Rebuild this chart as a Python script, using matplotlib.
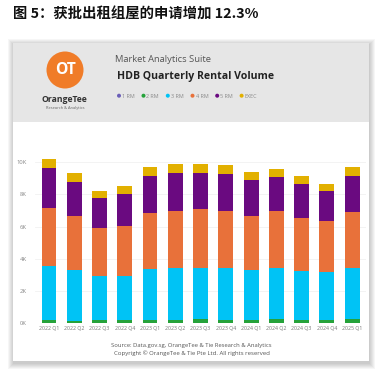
import matplotlib
matplotlib.use('Agg')
import matplotlib.pyplot as plt
import numpy as np
from matplotlib.patches import Rectangle, Circle

quarters = ['2022 Q1', '2022 Q2', '2022 Q3', '2022 Q4', '2023 Q1', '2023 Q2', '2023 Q3',
            '2023 Q4', '2024 Q1', '2024 Q2', '2024 Q3', '2024 Q4', '2025 Q1']
rm1 = [10, 10, 10, 10, 10, 10, 10, 10, 10, 10, 10, 10, 10]
rm2 = [160, 110, 160, 160, 160, 200, 220, 180, 180, 220, 180, 180, 220]
rm3 = [3380, 3180, 2750, 2750, 3210, 3230, 3190, 3250, 3130, 3190, 3050, 2960, 3190]
rm4 = [3590, 3340, 2970, 3100, 3450, 3550, 3650, 3530, 3360, 3530, 3310, 3180, 3490]
rm5 = [2510, 2150, 1890, 2010, 2300, 2330, 2280, 2300, 2240, 2130, 2120, 1880, 2260]
execu = [560, 540, 430, 480, 560, 570, 540, 560, 500, 500, 480, 440, 520]
series_names = ['1 RM', '2 RM', '3 RM', '4 RM', '5 RM', 'EXEC']
series_colors = ['#6B5FB8', '#25A23A', '#00C3F5', '#E8713A', '#6A0A80', '#E2B000']
yticks = [0, 2000, 4000, 6000, 8000, 10000]
ytick_labels = ['0K', '2K', '4K', '6K', '8K', '10K']

title = '图 5：获批出租组屋的申请增加 12.3%'
suite = 'Market Analytics Suite'
chart_title = 'HDB Quarterly Rental Volume'
source1 = 'Source: Data.gov.sg, OrangeTee & Tie Research & Analytics'
source2 = 'Copyright © OrangeTee & Tie Pte Ltd. All rights reserved'

W = H = 380
fig = plt.figure(figsize=(3.8, 3.8), dpi=100)
fig.patch.set_facecolor('white')
bg = fig.add_axes([0, 0, 1, 1])
bg.set_xlim(0, W)
bg.set_ylim(H, 0)
bg.axis('off')
renderer = fig.canvas.get_renderer()

LAT = ['Open Sans', 'DejaVu Sans']


def fit(x0, x1, y, s, ref=10, **kw):
    t = bg.text(x0, y, s, fontsize=ref, ha='left', va='center', **kw)
    w = t.get_window_extent(renderer=renderer).width
    t.set_fontsize(ref * (x1 - x0) / w)
    return t

# card shadow
for d in range(1, 7):
    bg.add_patch(Rectangle((13 - d + 1, 43 - d + 2), 356 + 2 * d - 1, 318 + 2 * d,
                           fc='black', ec='none', alpha=0.035, zorder=1))
bg.add_patch(Rectangle((13, 43), 356, 318, fc='white', ec='none', zorder=2))
bg.add_patch(Rectangle((13, 43), 356, 79, fc='#E6E6E6', ec='none', zorder=3))

# title
fit(13, 258, 15, title, family=['Noto Sans CJK SC', 'DejaVu Sans'], weight='bold',
    color='#111111', zorder=5)

# logo
bg.add_patch(Circle((65, 70), 18.5, fc='#F07C28', ec='none', zorder=4))
fit(55, 76, 70, 'OT', family=LAT, weight='bold', color='white', zorder=5)
fit(42, 88, 99, 'OrangeTee', family=LAT, weight='bold', color='#333333', zorder=5)
fit(46, 85, 108, 'Research & Analytics', family=LAT, color='#666666', zorder=5)

# header texts
fit(115, 212, 59, suite, family=LAT, color='#555555', zorder=5)
fit(117, 273, 77, chart_title, family=LAT, weight='bold', color='#222222', zorder=5)
lx = [119, 143.5, 167.8, 192.5, 217.2, 241.6]
for x, name, c in zip(lx, series_names, series_colors):
    bg.add_patch(Circle((x, 95.7), 2.0, fc=c, ec='none', zorder=5))
    bg.text(x + 3, 96, name, fontsize=3.9, family=LAT, color='#888888', ha='left',
            va='center', zorder=5)

# footer
fit(111, 273, 345, source1, family=LAT, color='#555555', zorder=5)
fit(114, 269, 353.5, source2, family=LAT, color='#555555', zorder=5)

# chart
ax = fig.add_axes([35.1 / W, 1 - 323 / H, (366 - 35.1) / W, (323 - 154.3) / H])
ax.set_zorder(10)
ax.patch.set_alpha(0)
x = np.arange(len(quarters))
bottom = np.zeros(len(quarters))
for vals, c in zip([rm1, rm2, rm3, rm4, rm5, execu], series_colors):
    ax.bar(x, vals, width=0.59, bottom=bottom, color=c, zorder=3)
    bottom += np.array(vals)
ax.set_xlim(-0.55, 12.55)
ax.set_ylim(0, 10500)
ax.set_yticks(yticks)
ax.set_yticklabels(ytick_labels, fontsize=4.2, color='#888888', family=LAT)
ax.set_xticks(x)
ax.set_xticklabels(quarters, fontsize=3.7, color='#777777', family=LAT)
ax.tick_params(length=0)
ax.tick_params(axis='y', pad=6)
ax.tick_params(axis='x', pad=2.5)
ax.grid(axis='y', color='#EEEEEE', linewidth=0.5, zorder=0)
for s in ax.spines.values():
    s.set_visible(False)

fig.savefig('out.png', dpi=100, facecolor='white')
